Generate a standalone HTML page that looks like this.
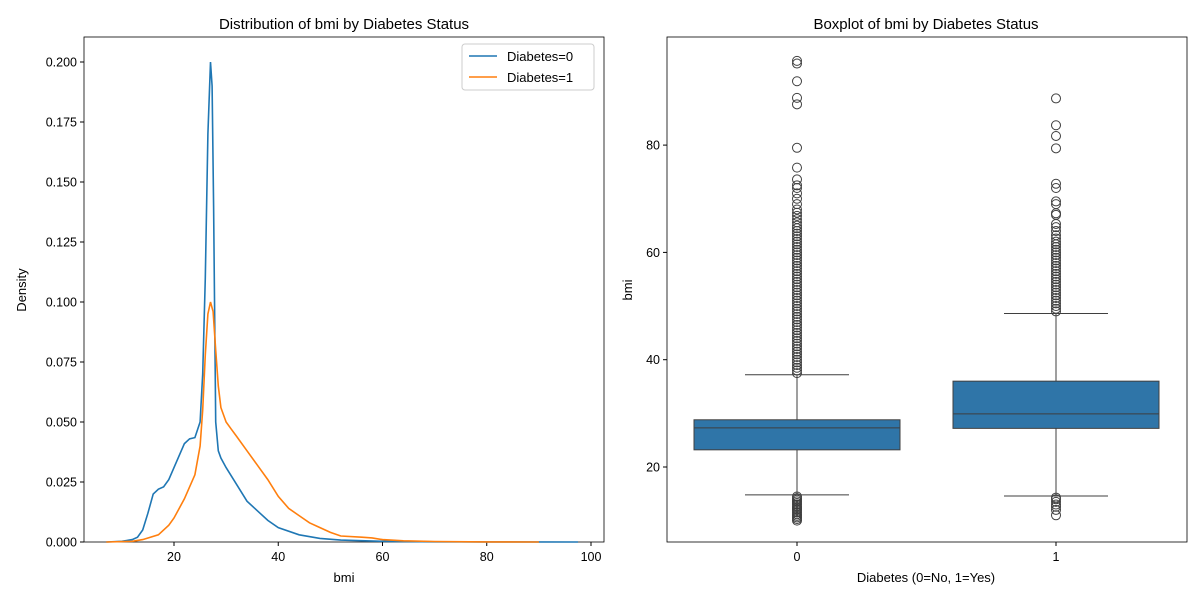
<!DOCTYPE html>
<html><head><meta charset="utf-8"><style>
body{margin:0;background:#fff;}
svg{display:block;font-family:"Liberation Sans","DejaVu Sans",sans-serif;}
</style></head><body>
<svg id="c" width="1200" height="600" xmlns="http://www.w3.org/2000/svg"></svg>
<script>
// ---- Left KDE data ----
const kdeX0 = [7,10,12,13,14,15,16,17,18,19,20,21,22,23,24,25,25.5,26,26.5,27,27.3,27.6,28,28.5,29,30,32,34,36,38,40,44,48,52,60,70,80,97.5];
const kdeY0 = [0,0.0003,0.001,0.002,0.005,0.012,0.02,0.022,0.023,0.026,0.031,0.036,0.041,0.043,0.0435,0.05,0.07,0.11,0.17,0.2,0.19,0.14,0.05,0.038,0.035,0.031,0.024,0.017,0.013,0.009,0.006,0.003,0.0015,0.0008,0.0003,0.0001,0.00005,0];
const kdeX1 = [7,12,14,17,19,20,22,24,25,25.5,26,26.5,27,27.5,28,28.5,29,30,31,32,34,36,38,40,42,44,46,48,50,52,56,58,60,64,70,80,90];
const kdeY1 = [0,0.0003,0.001,0.003,0.007,0.01,0.018,0.028,0.04,0.055,0.078,0.095,0.1,0.096,0.08,0.065,0.056,0.05,0.047,0.044,0.038,0.032,0.026,0.019,0.014,0.011,0.008,0.006,0.004,0.0025,0.002,0.0017,0.001,0.0005,0.0002,0.00005,0];
const xTicksL = [20,40,60,80,100];
const yTicksL = [0,0.025,0.05,0.075,0.1,0.125,0.15,0.175,0.2];
// ---- Right boxplot data ----
const categories = ["0","1"];
const q1 = [23.2,27.2], med = [27.3,29.9], q3 = [28.8,36.0];
const whiskLo = [14.8,14.6], whiskHi = [37.2,48.6];
const outliers0 = [10,10.3,10.6,10.9,11.2,11.5,11.8,12.1,12.4,12.7,13,13.3,13.6,13.9,14.2,14.5,37.5,38,38.5,39,39.5,40,40.5,41,41.5,42,42.5,43,43.5,44,44.5,45,45.5,46,46.5,47,47.5,48,48.5,49,49.5,50,50.5,51,51.5,52,52.5,53,53.5,54,54.5,55,55.5,56,56.5,57,57.5,58,58.5,59,59.5,60,60.5,61,61.5,62,62.5,63,63.5,64,64.5,65,65.6,66.2,66.8,67.4,68,69,70,71,72,72.5,73.6,75.8,79.5,87.6,88.8,91.9,95.2,95.7];
const outliers1 = [11,12,12.6,13,13.5,14,14.3,49,49.5,50,50.5,51,51.5,52,52.5,53,53.5,54,54.5,55,55.5,56,56.5,57,57.5,58,58.5,59,59.5,60,60.5,61,61.5,62,62.6,63.2,64,64.7,65.3,67,67.3,69,69.5,72,72.8,79.4,81.7,83.7,88.7];
const yTicksR = [20,40,60,80];

const svg = document.getElementById('c');
const NS = "http://www.w3.org/2000/svg";
function mk(tag, attrs, parent){const e=document.createElementNS(NS,tag);for(const k in attrs)e.setAttribute(k,attrs[k]);(parent||svg).appendChild(e);return e;}
function txt(s,attrs){const e=mk('text',attrs);e.textContent=s;return e;}

// Left axes
const L={x0:84,x1:604,y0:37,y1:542};
const sxL=v=>69.75+v*5.2125, syL=v=>542-v*2400;
mk('rect',{x:L.x0,y:L.y0,width:L.x1-L.x0,height:L.y1-L.y0,fill:'none',stroke:'#000','stroke-width':0.8});
xTicksL.forEach(t=>{const x=sxL(t);const g=mk('line',{x1:x,x2:x,y1:542,y2:546,stroke:'#000'});

const l=txt(String(t),{x:x,y:561,'font-size':12.5,'text-anchor':'middle'});});
yTicksL.forEach(t=>{const y=syL(t);mk('line',{x1:80,x2:84,y1:y,y2:y,stroke:'#000'});
const l=txt(t.toFixed(3),{x:77,y:y+4.5,'font-size':12.5,'text-anchor':'end'});});
function line(xs,ys,col,name){const d=xs.map((x,i)=>(i?'L':'M')+sxL(x).toFixed(1)+' '+syL(ys[i]).toFixed(1)).join(' ');
const p=mk('path',{d:d,fill:'none',stroke:col,'stroke-width':1.6});}
line(kdeX0,kdeY0,'#1f77b4','kde-diabetes-0');
line(kdeX1,kdeY1,'#ff7f0e','kde-diabetes-1');
let t=txt('Distribution of bmi by Diabetes Status',{x:344,y:29,'font-size':15,'text-anchor':'middle'});
t=txt('bmi',{x:344,y:582,'font-size':13,'text-anchor':'middle'});
t=txt('Density',{x:26,y:290,'font-size':13,'text-anchor':'middle',transform:'rotate(-90 26 290)'});
// legend
const lg=mk('g',{});
mk('rect',{x:462,y:44,width:132,height:46,rx:3,fill:'#fff',stroke:'#ccc'},lg);
mk('line',{x1:469,x2:497,y1:56,y2:56,stroke:'#1f77b4','stroke-width':1.6},lg);
mk('line',{x1:469,x2:497,y1:77,y2:77,stroke:'#ff7f0e','stroke-width':1.6},lg);
let e=mk('text',{x:507,y:61,'font-size':13},lg);e.textContent='Diabetes=0';
e=mk('text',{x:507,y:82,'font-size':13},lg);e.textContent='Diabetes=1';

// Right axes
const R={x0:667,x1:1187,y0:37,y1:542};
const syR=v=>467-(v-20)*5.365;
const cx=[797,1056];
mk('rect',{x:R.x0,y:R.y0,width:R.x1-R.x0,height:R.y1-R.y0,fill:'none',stroke:'#000','stroke-width':0.8});
yTicksR.forEach(v=>{const y=syR(v);mk('line',{x1:663,x2:667,y1:y,y2:y,stroke:'#000'});
const l=txt(String(v),{x:660,y:y+4.5,'font-size':12.5,'text-anchor':'end'});});
categories.forEach((c,i)=>{const x=cx[i];mk('line',{x1:x,x2:x,y1:542,y2:546,stroke:'#000'});
const l=txt(c,{x:x,y:561,'font-size':12.5,'text-anchor':'middle'});
const g=mk('g',{});
const hw=103,cw=52,col='#3f3f3f';
mk('line',{x1:x,x2:x,y1:syR(whiskLo[i]),y2:syR(q1[i]),stroke:col},g);
mk('line',{x1:x,x2:x,y1:syR(q3[i]),y2:syR(whiskHi[i]),stroke:col},g);
mk('line',{x1:x-cw,x2:x+cw,y1:syR(whiskLo[i]),y2:syR(whiskLo[i]),stroke:col},g);
mk('line',{x1:x-cw,x2:x+cw,y1:syR(whiskHi[i]),y2:syR(whiskHi[i]),stroke:col},g);
mk('rect',{x:x-hw,y:syR(q3[i]),width:2*hw,height:syR(q1[i])-syR(q3[i]),fill:'#2f75a8',stroke:col},g);
mk('line',{x1:x-hw,x2:x+hw,y1:syR(med[i]),y2:syR(med[i]),stroke:col},g);
(i?outliers1:outliers0).forEach(v=>{const o=mk('circle',{cx:x,cy:syR(v),r:4.5,fill:'none',stroke:col},g);});
});
t=txt('Boxplot of bmi by Diabetes Status',{x:926,y:29,'font-size':15,'text-anchor':'middle'});
t=txt('Diabetes (0=No, 1=Yes)',{x:926,y:582,'font-size':13,'text-anchor':'middle'});
t=txt('bmi',{x:632,y:290,'font-size':13,'text-anchor':'middle',transform:'rotate(-90 632 290)'});
</script>
</body></html>
